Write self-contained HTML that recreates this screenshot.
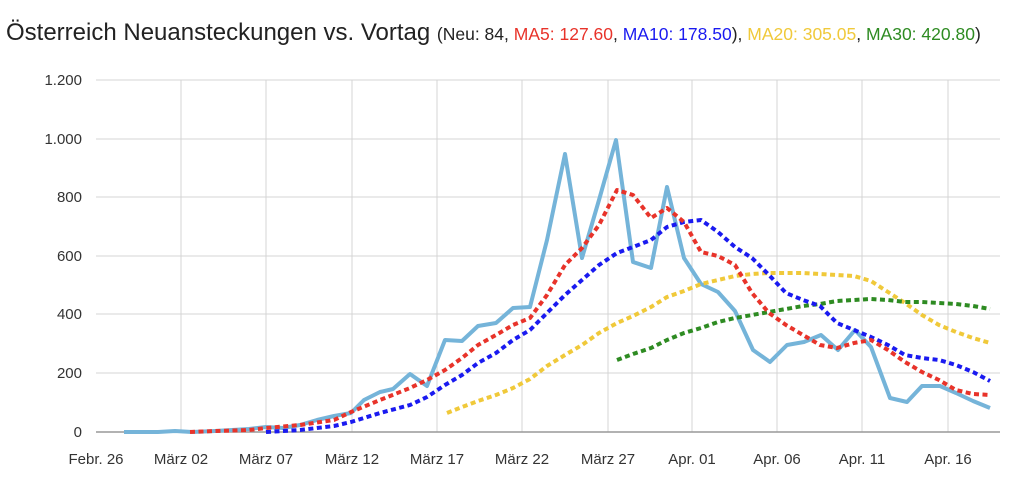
<!DOCTYPE html>
<html><head><meta charset="utf-8"><style>
body{margin:0;background:#fff;width:1024px;height:478px;overflow:hidden;font-family:"Liberation Sans",sans-serif}
</style></head><body>
<svg width="1024" height="478" viewBox="0 0 1024 478" xmlns="http://www.w3.org/2000/svg" font-family="Liberation Sans, sans-serif">
<text x="6" y="40" font-size="24" fill="#222">Österreich Neuansteckungen vs. Vortag <tspan font-size="17.5"><tspan fill="#222">(Neu: 84, </tspan><tspan fill="#e8332a">MA5: 127.60</tspan><tspan fill="#222">, </tspan><tspan fill="#1a1af0">MA10: 178.50</tspan><tspan fill="#222">), </tspan><tspan fill="#f0c93a">MA20: 305.05</tspan><tspan fill="#222">, </tspan><tspan fill="#2e8b22">MA30: 420.80</tspan><tspan fill="#222">)</tspan></tspan></text>
<g stroke="#d4d4d4" stroke-width="1">
<line x1="96" x2="1000" y1="80" y2="80"/><line x1="96" x2="1000" y1="139" y2="139"/><line x1="96" x2="1000" y1="197" y2="197"/><line x1="96" x2="1000" y1="256" y2="256"/><line x1="96" x2="1000" y1="314" y2="314"/><line x1="96" x2="1000" y1="373" y2="373"/>
<line x1="181" x2="181" y1="80" y2="432"/><line x1="266" x2="266" y1="80" y2="432"/><line x1="352" x2="352" y1="80" y2="432"/><line x1="437" x2="437" y1="80" y2="432"/><line x1="522" x2="522" y1="80" y2="432"/><line x1="608" x2="608" y1="80" y2="432"/><line x1="692" x2="692" y1="80" y2="432"/><line x1="777" x2="777" y1="80" y2="432"/><line x1="862" x2="862" y1="80" y2="432"/><line x1="948" x2="948" y1="80" y2="432"/>
</g>
<line x1="96" x2="1000" y1="432" y2="432" stroke="#999" stroke-width="1.5"/>
<g font-size="15" fill="#333" text-anchor="end">
<text x="82" y="437">0</text><text x="82" y="378">200</text><text x="82" y="319">400</text><text x="82" y="261">600</text><text x="82" y="202">800</text><text x="82" y="144">1.000</text><text x="82" y="85">1.200</text>
</g>
<g font-size="15" fill="#333" text-anchor="middle">
<text x="96" y="464">Febr. 26</text><text x="181" y="464">März 02</text><text x="266" y="464">März 07</text><text x="352" y="464">März 12</text><text x="437" y="464">März 17</text><text x="522" y="464">März 22</text><text x="608" y="464">März 27</text><text x="692" y="464">Apr. 01</text><text x="777" y="464">Apr. 06</text><text x="862" y="464">Apr. 11</text><text x="948" y="464">Apr. 16</text>
</g>
<g fill="none" stroke-linejoin="round">
<polyline stroke="#75b4d9" stroke-width="4" points="124,432 141,432 158,432 175,431 192,432 215,431 232,430 249,429 266,427 283,428 300,425 317,420 334,416 351,413 364,400 380,392 393,389 410,374 427,386 445,340 462,341 478,326 496,323 513,308 530,307 547,240 565,154 582,258 599,200 616,140 633,262 651,268 667,187 684,258 701,284 718,292 735,311 753,350 770,362 787,345 804,342 821,335 838,350 855,330 871,347 890,398 907,402 922,386 940,386 956,393 973,401 990,408"/>
<polyline stroke="#f0c93a" stroke-width="4" stroke-dasharray="5 3.5" points="447,413 462,407 478,401 496,395 513,388 530,379 547,366 565,355 582,345 599,333 617,323 633,316 651,307 667,297 684,291 701,284 718,280 735,276 752,274 769,273 786,273 803,273 820,274 837,275 854,276 871,281 888,292 905,303 922,315 939,325 956,332 973,338 990,343"/>
<polyline stroke="#2e8b22" stroke-width="4" stroke-dasharray="5 3.5" points="617,360 633,354 651,348 667,340 684,333 701,328 718,322 735,318 752,315 769,312 786,309 803,306 820,304 837,301 854,300 871,299 888,300 905,302 922,302 939,303 956,304 973,306 990,309"/>
<polyline stroke="#1a1af0" stroke-width="4" stroke-dasharray="5 3.5" points="266,432 300,430 334,426 351,422 380,413 410,405 427,397 445,385 462,375 478,363 496,353 513,340 530,330 547,313 565,295 582,280 599,265 617,253 633,247 651,240 667,227 684,222 701,220 718,232 735,247 752,258 769,275 786,293 803,300 820,306 837,323 854,330 871,337 888,345 905,355 922,358 939,360 956,365 973,372 990,381"/>
<polyline stroke="#e8332a" stroke-width="4" stroke-dasharray="5 3.5" points="190,432 215,431 249,430 266,428 300,425 334,420 351,412 380,400 410,388 427,380 445,370 462,358 478,345 496,335 513,325 530,318 547,295 565,265 582,248 599,225 617,190 633,195 651,218 667,208 684,222 701,252 718,256 735,265 752,293 769,313 786,325 803,335 820,345 837,348 854,343 871,340 888,350 905,362 922,372 939,380 956,390 973,394 990,395"/>
</g>
</svg>
</body></html>
